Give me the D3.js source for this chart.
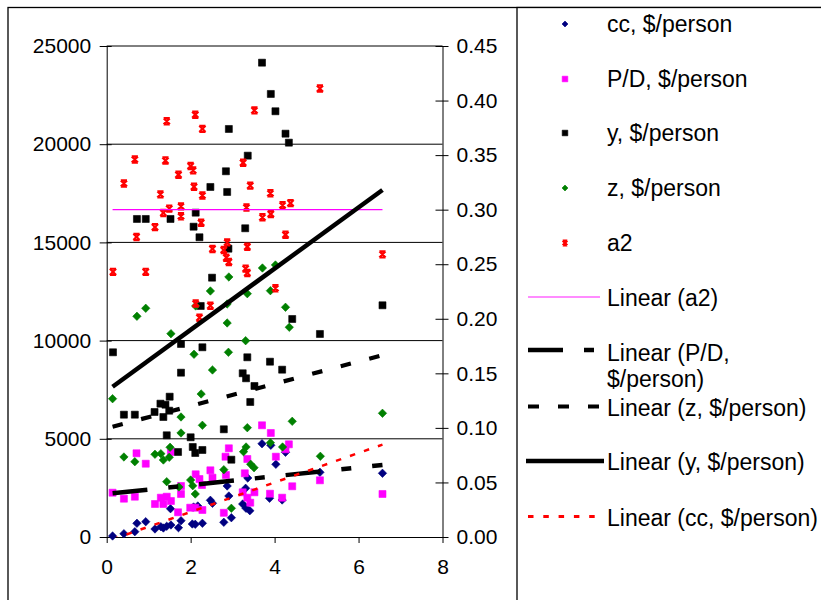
<!DOCTYPE html>
<html><head><meta charset="utf-8">
<script src="https://cdn.jsdelivr.net/npm/d3@7/dist/d3.min.js"></script>
<style>
body{margin:0;background:#fff}
text{font-family:"Liberation Sans",Arial,Helvetica,sans-serif;fill:#000}
</style>
</head><body>
<svg id="chart" width="821" height="600"></svg>
<script>
// ---------- data ----------
const ccData = [[0.14,51],[0.41,168],[0.67,270],[0.72,698],[0.93,779],[1.15,407],[1.29,524],[1.35,458],[1.43,545],[1.53,611],[1.71,474],[1.77,830],[1.52,1441],[2.04,662],[2.11,647],[2.28,698],[2.07,1528],[2.17,1579],[2.47,1869],[2.52,1716],[2.79,749],[2.97,983],[2.87,2597],[2.91,2088],[3.24,1680],[3.32,1461],[3.41,1339],[3.31,2480],[3.36,3004],[3.70,4751],[3.91,4669],[4.03,3702],[4.26,4313],[3.88,1971],[4.18,1884],[5.08,3294],[6.57,3244]];
const pdData = [[0.14,2256],[0.41,1950],[0.67,2052],[0.71,4262],[0.93,3732],[1.15,1680],[1.29,2001],[1.35,1680],[1.43,2052],[1.53,1833],[1.53,4328],[1.70,1258],[1.77,2597],[1.77,2190],[1.99,1492],[2.11,1492],[2.28,1375],[2.12,3193],[2.21,2953],[2.27,2648],[2.47,3396],[2.52,3020],[2.84,3157],[2.79,1232],[2.91,4517],[2.83,4089],[3.29,3244],[3.24,2276],[3.35,3972],[3.35,2001],[3.42,1747],[3.52,2276],[3.70,5688],[3.91,5296],[4.03,4089],[3.89,2205],[4.18,2001],[4.34,4720],[4.26,4466],[4.42,2582],[5.08,2887],[6.57,2190]];
const yData = [[3.70,24151],[3.91,22558],[4.02,21677],[4.26,20536],[4.34,20078],[2.91,20775],[3.36,19416],[2.84,18622],[2.47,17822],[2.87,17567],[0.72,16193],[0.93,16193],[1.52,16193],[2.12,16514],[2.07,15800],[2.21,15261],[3.30,15719],[2.90,14680],[2.51,13204],[2.24,11763],[4.42,11100],[1.77,9828],[2.28,9660],[0.15,9405],[3.35,9150],[3.89,8926],[4.18,8519],[6.57,11798],[5.08,10337],[1.77,8366],[3.24,8336],[3.32,8081],[3.52,7689],[3.42,6874],[1.50,7144],[1.28,6788],[1.40,6737],[1.14,6365],[1.49,6431],[1.35,6110],[0.41,6228],[0.67,6228],[2.79,5484],[1.43,5179],[2.00,5077],[1.70,4328],[2.05,4583],[2.11,4277],[2.28,4430],[2.97,3936]];
const zData = [[2.91,13239],[3.71,13697],[4.02,13850],[2.47,12526],[3.35,12389],[3.90,12542],[0.93,11645],[0.72,11238],[2.12,11763],[2.87,11865],[4.26,11696],[2.87,10897],[4.35,10678],[1.53,10352],[3.31,9996],[2.08,9303],[2.90,9405],[2.52,8504],[0.14,7042],[2.25,7282],[1.77,6110],[2.28,5688],[1.77,5296],[3.35,5566],[4.42,5891],[6.57,6299],[5.09,4109],[0.41,4074],[0.67,3834],[1.15,4211],[1.29,4242],[1.35,3921],[1.49,4058],[1.51,4568],[3.26,4343],[3.32,4583],[3.90,4802],[4.19,4583],[2.79,3427],[3.43,3702],[3.51,3529],[1.43,2816],[2.00,2902],[2.05,2612],[1.72,2546],[2.11,2190],[2.97,1461]];
const a2Data = [[1.43,0.381],[2.11,0.387],[2.28,0.374],[3.52,0.391],[5.08,0.411],[0.67,0.346],[1.40,0.345],[2.00,0.340],[2.06,0.336],[1.71,0.332],[3.25,0.343],[0.41,0.324],[1.28,0.314],[2.08,0.321],[2.28,0.313],[3.42,0.322],[3.90,0.315],[1.49,0.301],[1.77,0.303],[3.33,0.302],[4.19,0.304],[4.38,0.306],[1.35,0.297],[1.77,0.294],[1.15,0.284],[0.71,0.275],[2.25,0.288],[3.71,0.293],[3.91,0.296],[4.26,0.277],[2.52,0.264],[2.79,0.263],[2.87,0.270],[2.85,0.256],[2.91,0.252],[3.31,0.246],[3.35,0.242],[3.35,0.266],[0.15,0.243],[0.93,0.243],[4.02,0.228],[2.12,0.214],[2.47,0.212],[2.21,0.201],[6.57,0.259]];

// trend line end points [x, value]
const trendA2 = [[0.14,0.300],[6.57,0.300]];
const trendPD = [[0.14,2225],[6.57,3668]];
const trendZ  = [[0.14,5617],[6.57,9257]];
const trendY  = [[0.14,7653],[6.57,17670]];
const trendCC = [[0.14,-120],[6.57,4705]];

const xTicks = [0,2,4,6,8];
const yLeftTicks = [0,5000,10000,15000,20000,25000];
const yRightTicks = [0,0.05,0.10,0.15,0.20,0.25,0.30,0.35,0.40,0.45];

const markerNames = ["cc, $/person","P/D, $/person","y, $/person","z, $/person","a2"];
const lineNames = [["Linear (a2)"],["Linear (P/D,","$/person)"],["Linear (z, $/person)"],["Linear (y, $/person)"],["Linear (cc, $/person)"]];

// ---------- layout ----------
const svg = d3.select("#chart");
const X0 = 106.7, X1 = 442.5, Y0 = 537, Y1 = 46;
const x = d3.scaleLinear().domain([0,8]).range([X0,X1]);
const yL = d3.scaleLinear().domain([0,25000]).range([Y0,Y1]);
const yR = d3.scaleLinear().domain([0,0.45]).range([Y0,Y1]);

// outer chart border and legend box
svg.append("rect").attr("x",8).attr("y",7.5).attr("width",900).attr("height",700)
  .attr("fill","none").attr("stroke","#000").attr("stroke-width",1.3);
svg.append("rect").attr("x",517).attr("y",7.5).attr("width",400).attr("height",700)
  .attr("fill","#fff").attr("stroke","#000").attr("stroke-width",1.3);

svg.append("defs").append("clipPath").attr("id","plotclip")
  .append("rect").attr("x",X0).attr("y",Y1).attr("width",X1-X0).attr("height",Y0-Y1);

// gridlines
svg.append("g").selectAll("line").data(yLeftTicks.slice(1)).join("line")
  .attr("x1",X0).attr("x2",X1).attr("y1",d=>yL(d)).attr("y2",d=>yL(d))
  .attr("stroke","#000").attr("stroke-width",1);

const fs = 21;
// left axis
const gL = svg.append("g").attr("transform",`translate(${X0},0)`)
  .call(d3.axisLeft(yL).tickValues(yLeftTicks).tickFormat(d3.format("d")).tickSize(7).tickSizeOuter(0).tickPadding(8.5));
gL.selectAll(".tick line").attr("x1",5);
// right axis
const gR = svg.append("g").attr("transform",`translate(${X1},0)`)
  .call(d3.axisRight(yR).tickValues(yRightTicks).tickFormat(d3.format(".2f")).tickSize(6).tickSizeOuter(0).tickPadding(8));
gR.selectAll(".tick line").attr("x1",-7);
// bottom axis
const gB = svg.append("g").attr("transform",`translate(0,${Y0})`)
  .call(d3.axisBottom(x).tickValues(xTicks).tickFormat(d3.format("d")).tickSize(6).tickSizeOuter(0).tickPadding(16.5));
[gL,gR,gB].forEach(g=>{
  g.selectAll("text").style("font-size",fs+"px").attr("fill","#000")
   .style("font-family",'"Liberation Sans",Arial,sans-serif');
  g.selectAll("line,path").attr("stroke","#000").attr("stroke-width",1);
});

// markers
const sym = {
  diamond: s=>`M0,${-s}L${s},0L0,${s}L${-s},0Z`,
  square: s=>`M${-s},${-s}H${s}V${s}H${-s}Z`,
  xmark: s=>`M${-s},${-s}L${s},${s}M${s},${-s}L${-s},${s}M${-s},${-s}H${s}M${-s},${s}H${s}`
};
const series = [
  {data:ccData, y:yL, shape:"diamond", color:"#000080"},
  {data:pdData, y:yL, shape:"square", color:"#FF00FF"},
  {data:yData,  y:yL, shape:"square", color:"#000000"},
  {data:zData,  y:yL, shape:"diamond", color:"#008000"},
  {data:a2Data, y:yR, shape:"xmark", color:"#FF0000"}
];
function drawMarker(sel, shape, color, s){
  if(shape==="xmark"){
    sel.attr("d",sym.xmark(s)).attr("fill","none").attr("stroke",color).attr("stroke-width",2.2);
  } else {
    sel.attr("d",sym[shape](s)).attr("fill",color).attr("stroke",color).attr("stroke-width",0.6);
  }
}
const gm = svg.append("g");
series.forEach(sr=>{
  const sz = sr.shape==="diamond"?4.2:(sr.shape==="square"?3.5:3.1);
  gm.append("g").selectAll("path").data(sr.data).join("path")
    .attr("transform",d=>`translate(${x(d[0])},${sr.y(d[1])})`)
    .call(drawMarker, sr.shape, sr.color, sz);
});

// trend lines
const trends = [
  {data:trendA2, y:yR, color:"#FF00FF", w:1.2, dash:null},
  {data:trendPD, y:yL, color:"#000", w:4.5, dash:"35,21,10,21"},
  {data:trendZ,  y:yL, color:"#000", w:4.2, dash:"10.5,19"},
  {data:trendY,  y:yL, color:"#000", w:4.5, dash:null},
  {data:trendCC, y:yL, color:"#FF0000", w:2.5, dash:"5.5,9.3"}
];
const gt = svg.append("g").attr("clip-path","url(#plotclip)");
trends.forEach(t=>{
  const line = d3.line().x(d=>x(d[0])).y(d=>t.y(d[1]));
  gt.append("path").attr("d",line(t.data)).attr("fill","none")
    .attr("stroke",t.color).attr("stroke-width",t.w)
    .attr("stroke-dasharray",t.dash).attr("stroke-linecap","butt");
});

// legend
const lg = svg.append("g");
const lfs = 23;
const markerRowsY = [24,79,133,188,243];
series.forEach((sr,i)=>{
  lg.append("path").attr("transform",`translate(565,${markerRowsY[i]})`)
    .call(drawMarker, sr.shape, sr.color, sr.shape==="diamond"?3:(sr.shape==="square"?2.8:2.3));
  lg.append("text").attr("x",607).attr("y",markerRowsY[i]).attr("dy","0.35em")
    .style("font-size",lfs+"px").text(markerNames[i]);
});
const lineRowsY = [297,350,406.5,461,516.5];
const legendLineColors = ["#FF66FF","#000","#000","#000","#FF0000"];
trends.forEach((t,i)=>{
  const yy = lineRowsY[i];
  lg.append("line").attr("x1", i===3?526:528).attr("x2", i===3?604:600).attr("y1",yy).attr("y2",yy)
    .attr("stroke",legendLineColors[i]).attr("stroke-width", i===0?1.5:(i===4?3:t.w))
    .attr("stroke-dasharray", i===2?"11,19":(i===4?"5.5,9.8":t.dash));
  lineNames[i].forEach((txt,j)=>{
    lg.append("text").attr("x",607).attr("y",yy+ (i===1?3:1) + j*25.5).attr("dy","0.35em")
      .style("font-size",lfs+"px").text(txt);
  });
});
</script>
</body></html>
